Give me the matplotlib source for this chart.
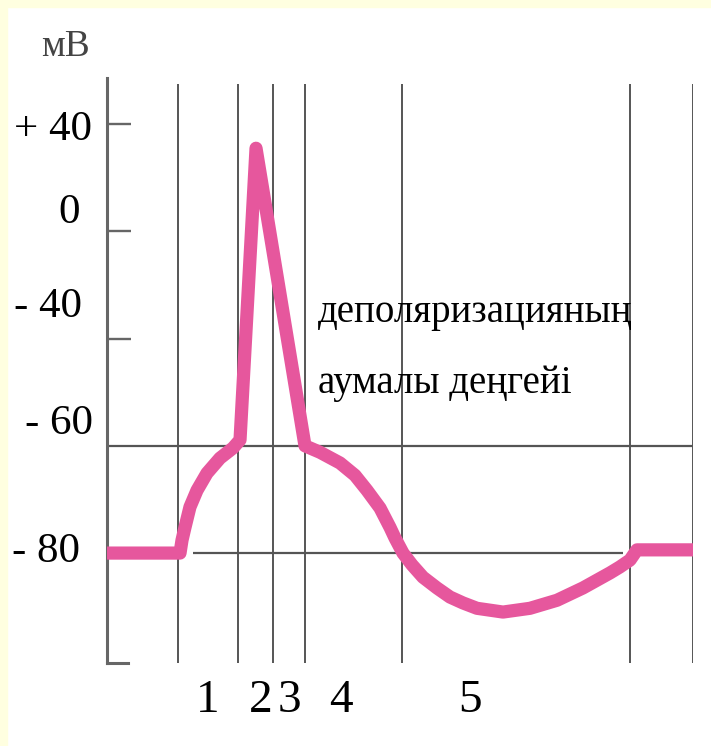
"""
Action potential schematic: membrane potential (mV) vs time with phases 1-5
and the critical depolarisation level marked.
"""

import numpy as np
import matplotlib
matplotlib.use("Agg")
import matplotlib.pyplot as plt
from matplotlib.patches import Rectangle

# --- data ---
# y axis levels are drawn evenly spaced although the mV steps are not
level_mv = [-80, -60, -40, 0, 40]
level_labels = ["- 80", "- 60", "- 40", "0", "+ 40"]
tick_mv = [40, 0, -40]
ref_line_mv = [-60, -80]

# time in arbitrary units, axis at 0, last grid line at 100
trace_t = [0.0, 12.46, 12.8, 13.31, 14.16, 15.36, 17.06, 19.28, 21.5, 22.7,
           25.43, 33.79, 36.35, 39.76, 42.32, 44.37, 46.59, 48.29, 49.15,
           50.51, 52.05, 53.92, 56.3, 58.53, 60.75, 63.14, 67.58, 72.18,
           76.79, 81.23, 85.84, 87.5, 89.25, 90.44, 100.0]
trace_mv = [-80.0, -80.0, -77.6, -75.2, -71.4, -68.3, -65.1, -62.3, -60.4,
            -58.9, 31.0, -60.0, -61.2, -63.2, -65.5, -68.3, -71.6, -75.2,
            -77.2, -80.0, -82.2, -84.5, -86.5, -88.2, -89.3, -90.3, -91.0,
            -90.3, -88.8, -86.5, -83.7, -82.6, -81.3, -79.4, -79.4]

phase_bounds_t = [12.1, 22.4, 28.3, 33.8, 50.4, 89.3, 100.0]
phase_labels = ["1", "2", "3", "4", "5"]
phase_label_t = [17.1, 26.3, 31.2, 39.9, 61.9]

unit_label = "мВ"
note_lines = ["деполяризацияның", "аумалы деңгейі"]

# --- style ---
W, H, DPI = 711, 746, 100
PINK = "#E6579D"
GRID = "#555555"
BORDER = "#FFFFE0"
FONT = ["Liberation Serif", "DejaVu Serif"]


def mv_to_level(v):
    v = np.asarray(v, dtype=float)
    lvl = np.interp(v, level_mv, np.arange(len(level_mv)))
    lvl = np.where(v < level_mv[0], (v - level_mv[0]) / 20.0, lvl)
    lvl = np.where(v > level_mv[-1], len(level_mv) - 1 + (v - level_mv[-1]) / 40.0, lvl)
    return lvl


def level_to_mv(lvl):
    lvl = np.asarray(lvl, dtype=float)
    top = len(level_mv) - 1
    v = np.interp(lvl, np.arange(len(level_mv)), level_mv)
    v = np.where(lvl < 0, level_mv[0] + lvl * 20.0, v)
    v = np.where(lvl > top, level_mv[-1] + (lvl - top) * 40.0, v)
    return v


def main():
    plt.rcParams["font.family"] = FONT
    fig = plt.figure(figsize=(W / DPI, H / DPI), dpi=DPI)
    fig.patch.set_facecolor("white")

    # light yellow frame on the left and top
    fig.add_artist(Rectangle((0, 0), 7 / W, 1, transform=fig.transFigure,
                             color=BORDER, zorder=0))
    fig.add_artist(Rectangle((0, 1 - 7 / H), 1, 7 / H, transform=fig.transFigure,
                             color=BORDER, zorder=0))

    ax = fig.add_axes([107 / W, 1 - 663 / H, 586 / W, 585 / H])
    ax.set_yscale("function", functions=(mv_to_level, level_to_mv))
    ax.set_xlim(0, 100)
    ax.set_ylim(-100.5, 57.2)
    ymin, _ = ax.get_ylim()

    for side in ["top", "right", "bottom"]:
        ax.spines[side].set_visible(False)
    ax.spines["left"].set_linewidth(2.2)
    ax.spines["left"].set_color("#666666")
    ax.set_xticks([])
    ax.set_yticks(tick_mv)
    ax.tick_params(axis="y", direction="in", length=17, width=1.7,
                   color="#666666", labelleft=False)
    # small foot at the bottom of the axis
    ax.plot([0, 3.6], [ymin, ymin], color="#666666", lw=2.2, clip_on=False)

    # phase boundaries and reference levels
    ax.vlines(phase_bounds_t, ymin, 54.9, color=GRID, lw=1.4, zorder=1)
    ax.hlines(ref_line_mv[0], 0, 100, color=GRID, lw=1.6, zorder=1)
    ax.hlines(ref_line_mv[1], 14.7, 88.0, color=GRID, lw=1.6, zorder=1)

    ax.plot(trace_t, trace_mv, color=PINK, lw=9.5, solid_joinstyle="round",
            solid_capstyle="butt", zorder=3, clip_on=False)

    # y labels, placed by hand as in the drawing
    label_offsets = {"- 80": (-27, 1), "- 60": (-14, 22), "- 40": (-25, 32),
                     "0": (-27, 19), "+ 40": (-15, -6)}
    for mv, lab in zip(level_mv, level_labels):
        ax.annotate(lab, xy=(0, mv), xycoords=ax.get_yaxis_transform(),
                    xytext=label_offsets[lab], textcoords="offset pixels",
                    ha="right", va="center", fontsize=31, annotation_clip=False)

    for t, lab in zip(phase_label_t, phase_labels):
        ax.text(t, -0.065, lab, transform=ax.get_xaxis_transform(),
                ha="center", va="center", fontsize=34)

    fig.text(41 / W, 1 - 47 / H, unit_label, ha="left", va="center", fontsize=27,
             color="#444444")

    ax.text(36.0, -33.8, note_lines[0], ha="left", va="baseline", fontsize=28)
    ax.text(36.0, -50.2, note_lines[1], ha="left", va="baseline", fontsize=28)

    fig.savefig("out.png", dpi=DPI, facecolor=fig.get_facecolor())
    plt.close(fig)


if __name__ == "__main__":
    main()
